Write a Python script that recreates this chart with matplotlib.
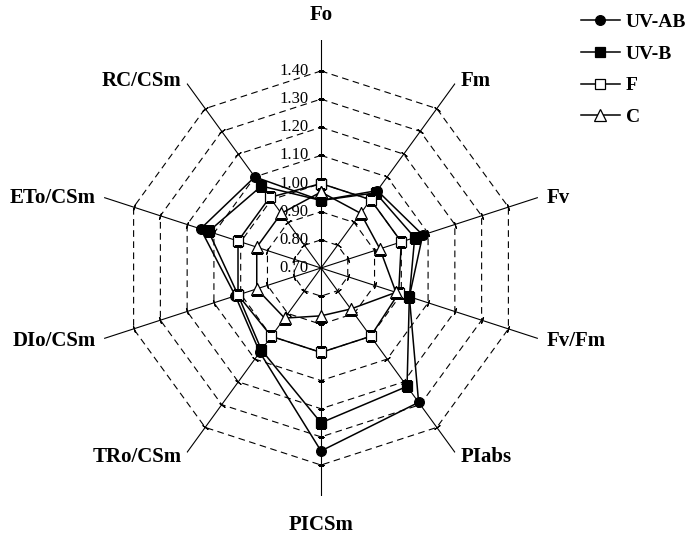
import numpy as np
import matplotlib
matplotlib.use('Agg')
import matplotlib.pyplot as plt

# axes of the radar, clockwise from the top
categories = ['Fo', 'Fm', 'Fv', 'Fv/Fm', 'PIabs', 'PICSm', 'TRo/CSm', 'DIo/CSm', 'ETo/CSm', 'RC/CSm']

uv_ab = [0.94, 1.04, 1.08, 1.03, 1.29, 1.35, 1.07, 1.02, 1.15, 1.10]
uv_b  = [0.94, 1.03, 1.05, 1.03, 1.22, 1.25, 1.06, 1.01, 1.12, 1.06]
f_ctl = [1.00, 1.00, 1.00, 0.99, 1.00, 1.00, 1.00, 1.01, 1.01, 1.01]
c_ctl = [0.97, 0.94, 0.92, 0.98, 0.88, 0.87, 0.92, 0.94, 0.94, 0.94]

rings = [0.70, 0.80, 0.90, 1.00, 1.10, 1.20, 1.30, 1.40]
ring_labels = ['0.70', '0.80', '0.90', '1.00', '1.10', '1.20', '1.30', '1.40']
r_min, r_max = 0.70, 1.51

plt.rcParams['font.family'] = ['Liberation Serif', 'DejaVu Serif']

fig = plt.figure(figsize=(6.96, 5.39), dpi=100)
ax = fig.add_axes([93 / 696, 43 / 539, 456 / 696, 456 / 539], projection='polar')
ax.set_theta_zero_location('N')
ax.set_theta_direction(-1)
ax.set_ylim(r_min, r_max)
ax.spines['polar'].set_visible(False)
ax.grid(False)
ax.set_xticks([])
ax.set_yticks([])

n = len(categories)
theta = np.arange(n) * 2 * np.pi / n
closed = np.append(theta, theta[0])

# dashed decagon gridlines
for r in rings[1:]:
    ax.plot(closed, [r] * (n + 1), color='black', lw=0.8, ls=(0, (6, 4)), zorder=1)

# spokes with small tick marks
for t in theta:
    ax.plot([t, t], [r_min, r_max], color='black', lw=0.8, zorder=2)
    ax.plot([t] * (len(rings) - 1), rings[1:], ls='none', color='black',
            marker=(2, 2, 90 - np.degrees(t)), markersize=5, mew=0.8, zorder=2)

# value labels on the top spoke
for r, lab in zip(rings, ring_labels):
    ax.annotate(lab, xy=(0, r), xytext=(-9, 0), textcoords='offset points',
                ha='right', va='center', fontsize=12)

# category labels
offsets = {
    'Fo': (0, 11, 'center', 'bottom'),
    'Fm': (4, 2, 'left', 'center'),
    'Fv': (6, 0, 'left', 'center'),
    'Fv/Fm': (6, -2, 'left', 'center'),
    'PIabs': (4, -3, 'left', 'center'),
    'PICSm': (0, -14, 'center', 'top'),
    'TRo/CSm': (-4, -3, 'right', 'center'),
    'DIo/CSm': (-6, -2, 'right', 'center'),
    'ETo/CSm': (-6, 0, 'right', 'center'),
    'RC/CSm': (-4, 2, 'right', 'center'),
}
for t, cat in zip(theta, categories):
    dx, dy, ha, va = offsets[cat]
    ax.annotate(cat, xy=(t, r_max), xytext=(dx, dy), textcoords='offset points',
                ha=ha, va=va, fontsize=15, fontweight='bold')

series = [
    ('UV-AB', uv_ab, 'o', 'black'),
    ('UV-B', uv_b, 's', 'black'),
    ('F', f_ctl, 's', 'white'),
    ('C', c_ctl, '^', 'white'),
]
for z, (name, vals, mk, fc) in enumerate(series):
    ax.plot(closed, vals + vals[:1], color='black', lw=1.1, marker=mk,
            markersize=8 if mk == '^' else 7, markerfacecolor=fc,
            markeredgecolor='black', mew=0.9, label=name, zorder=3 + z)

ax.legend(loc='upper left', bbox_to_anchor=(581 / 696, 0.975), bbox_transform=fig.transFigure,
          frameon=False, borderpad=0, borderaxespad=0, numpoints=1,
          handlelength=2.0, handletextpad=0.3, labelspacing=0.72,
          prop={'family': 'Liberation Serif', 'weight': 'bold', 'size': 14})

fig.savefig('out.png', dpi=100)
